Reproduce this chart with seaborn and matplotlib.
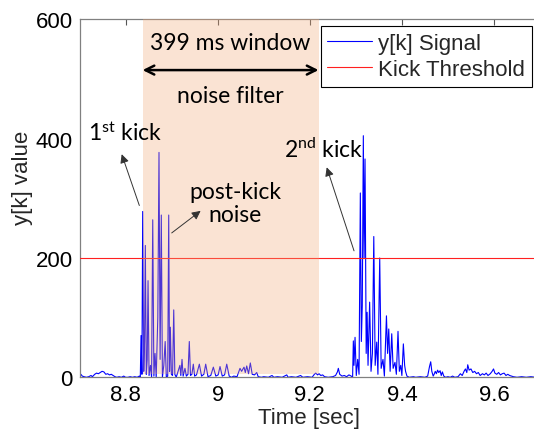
import numpy as np
import pandas as pd
import matplotlib
matplotlib.use("Agg")
import matplotlib.pyplot as plt
import seaborn as sns
from matplotlib.patches import Rectangle

# ---------------- data ----------------
time_s = [
    8.700, 8.703, 8.706, 8.710, 8.715, 8.720, 8.725, 8.728, 8.733, 8.737,
    8.741, 8.745, 8.749, 8.753, 8.757, 8.761, 8.765, 8.769, 8.773, 8.777,
    8.781, 8.786, 8.791, 8.796, 8.800, 8.805, 8.810, 8.815, 8.820, 8.825,
    8.830, 8.8320,
    8.8336, 8.8355, 8.8372, 8.8395, 8.8412, 8.8429, 8.8450, 8.8470, 8.8488, 8.8510,
    8.8540, 8.8565, 8.8590, 8.8615, 8.8640, 8.8665, 8.8700, 8.8726, 8.8750, 8.8776,
    8.8800, 8.8830, 8.8860, 8.8885, 8.8915, 8.8937, 8.8955, 8.8972, 8.8995, 8.9020,
    8.9046, 8.9070, 8.9100, 8.9180, 8.9200, 8.9226, 8.9250, 8.9290, 8.9320, 8.9355,
    8.9384, 8.9410, 8.9440, 8.9471, 8.9500, 8.9540, 8.9602, 8.9650, 8.9700, 8.9740,
    8.9790, 8.9850, 8.9906, 8.9960, 9.0010, 9.0051, 9.0100, 9.0150, 9.0197, 9.0250,
    9.0300, 9.0350, 9.0420, 9.0485, 9.0520, 9.0572, 9.0600, 9.0631, 9.0670, 9.0709,
    9.0750, 9.0800, 9.0848, 9.0880, 9.095, 9.100, 9.110, 9.118, 9.122, 9.130,
    9.140, 9.150, 9.153, 9.160, 9.170, 9.180, 9.185, 9.195, 9.205, 9.210,
    9.213, 9.217, 9.220, 9.224, 9.228, 9.232, 9.240, 9.250, 9.256, 9.260,
    9.262, 9.265, 9.270, 9.275, 9.280, 9.285, 9.290, 9.2930,
    9.2946, 9.2960, 9.2983, 9.3010, 9.3040, 9.3070, 9.3098, 9.3120, 9.3140, 9.3163,
    9.3180, 9.3200, 9.3225, 9.3245, 9.3265, 9.3300, 9.3330, 9.3360, 9.3390, 9.3420,
    9.3454, 9.3480, 9.3519, 9.3550, 9.3590, 9.3620, 9.3665, 9.3690, 9.3715, 9.3745,
    9.3780, 9.3810, 9.3850, 9.3880, 9.3916, 9.3945, 9.3975, 9.4000, 9.4032, 9.4060,
    9.4080, 9.4110, 9.4160, 9.4250, 9.4300, 9.4400, 9.4500, 9.4560, 9.4600, 9.4626,
    9.4650, 9.4680, 9.4700, 9.4725, 9.4750, 9.4775, 9.4800, 9.4830, 9.4855, 9.4880,
    9.4910, 9.4950, 9.5000, 9.5050, 9.5100, 9.5150, 9.5220, 9.5270, 9.5310, 9.5350,
    9.5380, 9.5410, 9.5430, 9.5460, 9.5500, 9.5540, 9.5580, 9.5620, 9.5660, 9.5700,
    9.5750, 9.5790, 9.5830, 9.5870, 9.5920, 9.5960, 9.5990, 9.6020, 9.6060, 9.6100,
    9.6140, 9.6180, 9.6220, 9.6260, 9.6300, 9.6340, 9.6380, 9.6420, 9.6500, 9.6600,
    9.6700, 9.6800, 9.6900, 9.7000,
]
yk_value = [
    3, 5, 2, 1, 0, 1, 3, 1, 5, 7,
    6, 8, 10, 9, 5, 6, 4, 5, 3, 1,
    0, 1, 0, 2, 0, 0, 1, 0, 1, 0,
    2, 0,
    70, 5, 278, 10, 60, 221, 5, 30, 162, 3,
    20, 0, 264, 2, 40, 0, 100, 377, 30, 272,
    0, 20, 60, 0, 2, 272, 10, 84, 5, 3,
    113, 5, 0, 20, 3, 30, 2, 15, 2, 5,
    60, 3, 5, 22, 2, 4, 22, 2, 5, 22,
    1, 3, 17, 2, 4, 18, 2, 4, 22, 2,
    0, 2, 1, 15, 10, 17, 8, 19, 6, 24,
    5, 4, 8, 1, 0, 1, 0, 3, 0, 1,
    0, 4, 0, 1, 0, 3, 0, 1, 0, 5,
    7, 4, 6, 3, 4, 1, 0, 1, 3, 9,
    15, 5, 2, 3, 1, 4, 2, 0,
    61, 20, 67, 3, 30, 5, 309, 60, 120, 405,
    200, 366, 40, 109, 20, 126, 10, 40, 236, 20,
    59, 5, 200, 15, 30, 2, 103, 40, 81, 10,
    73, 15, 25, 5, 77, 10, 20, 3, 56, 20,
    10, 2, 0, 1, 0, 1, 0, 2, 18, 26,
    10, 2, 5, 10, 6, 12, 8, 11, 3, 9,
    2, 0, 1, 0, 2, 0, 1, 6, 3, 10,
    14, 8, 21, 12, 14, 8, 10, 6, 8, 3,
    6, 4, 7, 3, 6, 10, 14, 7, 5, 8,
    4, 6, 7, 3, 5, 3, 2, 1, 0, 1,
    0, 1, 0, 1,
]
kick_threshold = 200
window_start, window_end = 8.837, 9.219
x_ticks = [8.8, 9.0, 9.2, 9.4, 9.6]
x_tick_labels = ["8.8", "9", "9.2", "9.4", "9.6"]
y_ticks = [0, 200, 400, 600]

df = pd.DataFrame({"Time": time_s, "y": yk_value})

# ---------------- style ----------------
sns.set_theme(style="white")
plt.rcParams["font.family"] = ["Liberation Sans", "DejaVu Sans"]
plt.rcParams["mathtext.fontset"] = "custom"
plt.rcParams["mathtext.rm"] = "Lato"
plt.rcParams["mathtext.it"] = "Lato:italic"

fig = plt.figure(figsize=(5.34, 4.31), dpi=100)
ax = fig.add_axes([0.1489, 0.1223, 0.8624, 0.8304])

sns.lineplot(data=df, x="Time", y="y", ax=ax, color="#0000FF", lw=0.8,
             estimator=None, sort=False, legend=False, zorder=2)
sig_line = ax.lines[-1]
thr_line = ax.axhline(kick_threshold, color="#FF2020", lw=0.8, zorder=3)

# shaded noise filter window (overlay)
ax.add_patch(Rectangle((window_start, 6), window_end - window_start, 600 - 6,
                       facecolor="#F2A876", alpha=0.32, edgecolor="none", zorder=4))

ax.set_xlim(8.7, 9.7)
ax.set_ylim(0, 600)
ax.set_xticks(x_ticks)
ax.set_xticklabels(x_tick_labels)
ax.set_yticks(y_ticks)
ax.tick_params(axis="both", direction="in", length=4, width=0.8, colors="#555555",
               labelcolor="black", labelsize=16, top=True, right=True, pad=5)
for sp in ax.spines.values():
    sp.set_color("#808080")
    sp.set_linewidth(0.9)
ax.set_xlabel("Time [sec]", fontsize=16)
ax.xaxis.set_label_coords(0.498, -0.083)
ax.set_ylabel("y[k] value", fontsize=16)
ax.yaxis.set_label_coords(-0.101, 0.561)

leg = ax.legend([sig_line, thr_line], ["y[k] Signal", "Kick Threshold"],
                loc="upper right", bbox_to_anchor=(0.9963, 0.9374),
                bbox_transform=fig.transFigure, fontsize=16, frameon=True,
                fancybox=False, framealpha=1, edgecolor="black",
                handlelength=2.0, handletextpad=0.3, labelspacing=0.25,
                borderpad=0.3, borderaxespad=0)
leg.get_frame().set_linewidth(0.8)
leg.set_zorder(10)

afont = dict(family=["Lato", "DejaVu Sans"], fontsize=16.5, color="black")

# window annotation
ax.text((window_start + window_end) / 2, 562, "399 ms window", ha="center", va="center",
        zorder=6, **afont)
ax.annotate("", xy=(window_start, 515), xytext=(window_end, 515),
            arrowprops=dict(arrowstyle="<->", lw=1.8, color="black", mutation_scale=16,
                            shrinkA=0, shrinkB=0), zorder=6)
ax.text((window_start + window_end) / 2, 473, "noise filter", ha="center", va="center",
        zorder=6, **afont)

arrow_kw = dict(arrowstyle="-|>", lw=0.7, color="#333333", mutation_scale=13,
                shrinkA=0, shrinkB=0)
# 1st kick
ax.text(8.7990, 411, r"1$^{\rm st}$ kick", ha="center", va="center", zorder=6, **afont)
ax.annotate("", xy=(8.7916, 374), xytext=(8.8299, 288), arrowprops=arrow_kw, zorder=6)
# post-kick noise
ax.text(9.0384, 292, "post-kick\nnoise", ha="center", va="center", linespacing=1.1,
        zorder=6, **afont)
ax.annotate("", xy=(8.963, 279), xytext=(8.9002, 242), arrowprops=arrow_kw, zorder=6)
# 2nd kick
ax.text(9.2310, 383, r"2$^{\rm nd}$ kick", ha="center", va="center", zorder=6, **afont)
ax.annotate("", xy=(9.2368, 352), xytext=(9.2961, 212), arrowprops=arrow_kw, zorder=6)

fig.savefig("out.png", dpi=100)
